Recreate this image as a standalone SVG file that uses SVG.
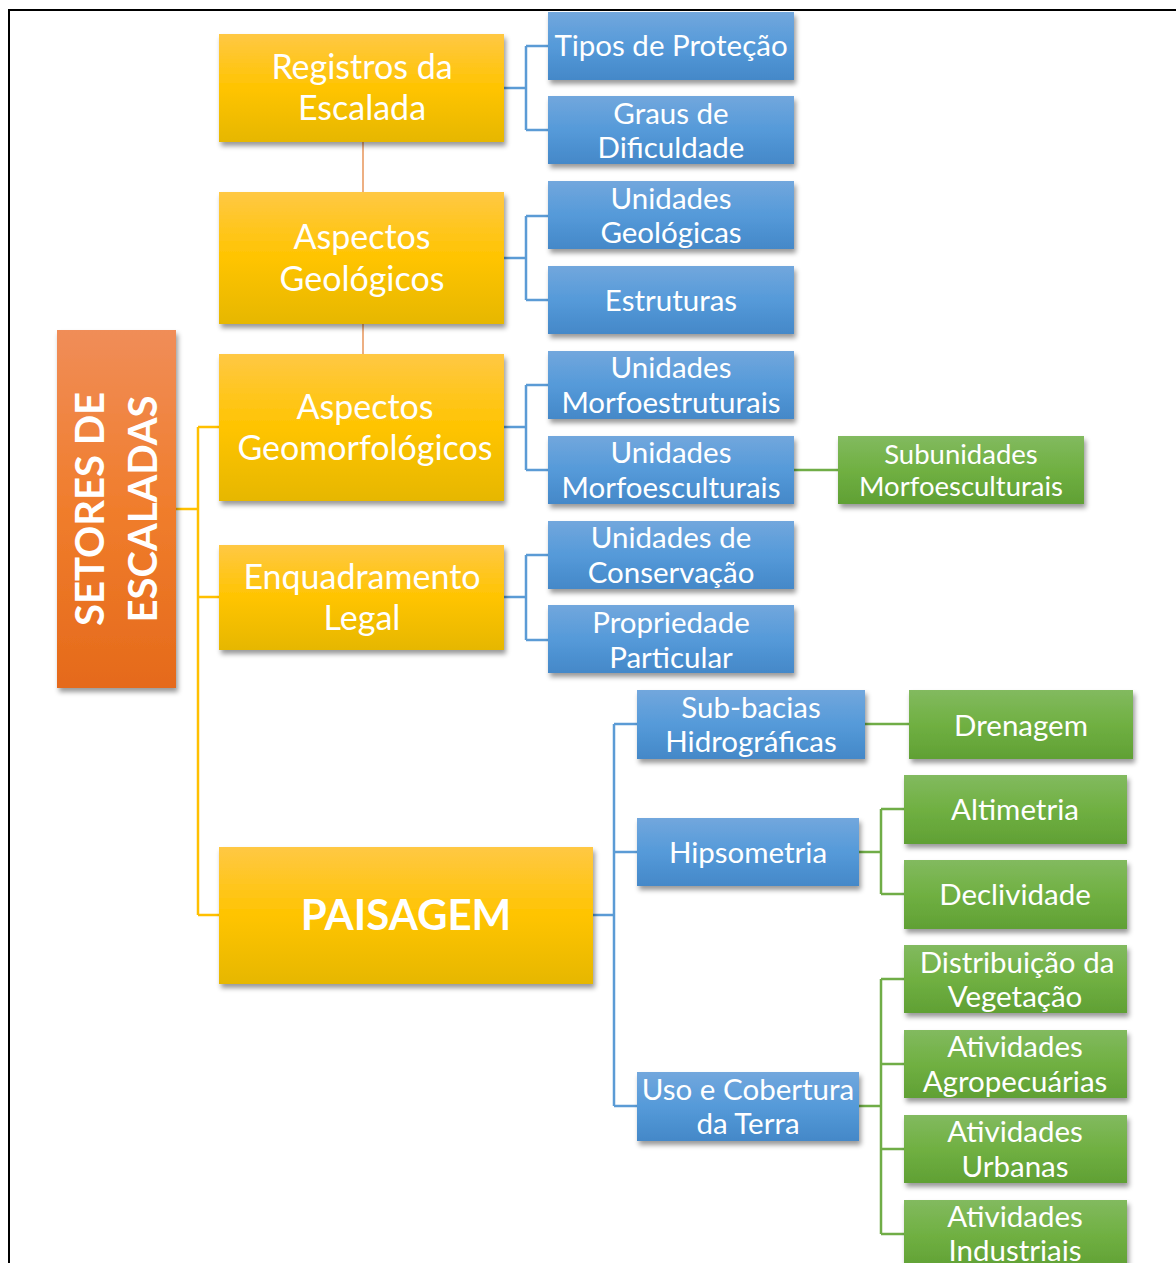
<svg xmlns="http://www.w3.org/2000/svg" width="1176" height="1263" viewBox="0 0 1176 1263">
<style>
.t{font-family:Lato,"Open Sans","Liberation Sans",sans-serif;fill:#fff;text-anchor:middle;}
.y{font-size:34px;}
.b{font-size:29.5px;}
.g{font-size:29.5px;}
.gs{font-size:27.5px;}
.cy{stroke:#FFC000;stroke-width:2.5;fill:none;}
.cb{stroke:#5B9BD5;stroke-width:2.5;fill:none;}
.cg{stroke:#70AD47;stroke-width:2.5;fill:none;}
.co{stroke:#E8955A;stroke-width:1.5;fill:none;}
</style>
<defs>
<linearGradient id="gy" x1="0" y1="0" x2="0" y2="1"><stop offset="0" stop-color="#FFC844"/><stop offset="0.5" stop-color="#FFC400"/><stop offset="1" stop-color="#E6B700"/></linearGradient>
<linearGradient id="gb" x1="0" y1="0" x2="0" y2="1"><stop offset="0" stop-color="#72A7DD"/><stop offset="0.5" stop-color="#559AD9"/><stop offset="1" stop-color="#4488C8"/></linearGradient>
<linearGradient id="gg" x1="0" y1="0" x2="0" y2="1"><stop offset="0" stop-color="#82BA5F"/><stop offset="0.5" stop-color="#70B042"/><stop offset="1" stop-color="#60A034"/></linearGradient>
<linearGradient id="go" x1="0" y1="0" x2="0" y2="1"><stop offset="0" stop-color="#F08D58"/><stop offset="0.5" stop-color="#F07D2C"/><stop offset="1" stop-color="#E56A1B"/></linearGradient>
<filter id="sh" x="-10%" y="-10%" width="125%" height="130%"><feDropShadow dx="2" dy="4" stdDeviation="2.5" flood-color="#000" flood-opacity="0.4"/></filter>
</defs>
<rect x="0" y="0" width="1176" height="1263" fill="#fff"/>
<rect x="9" y="10" width="1180" height="1280" fill="none" stroke="#000" stroke-width="2"/>

<g id="connectors">
<path class="co" d="M363 142V192M363 324V354"/>
<path class="cy" d="M176 509H198M198 427V915M198 427H219M198 597H219M198 915H219"/>
<path class="cb" d="M504 88H526M526 46V130M526 46H548M526 130H548"/>
<path class="cb" d="M504 258H526M526 216V300M526 216H548M526 300H548"/>
<path class="cb" d="M504 427H526M526 385V470M526 385H548M526 470H548"/>
<path class="cb" d="M504 597H526M526 555V640M526 555H548M526 640H548"/>
<path class="cg" d="M794 470H838"/>
<path class="cb" d="M593 915H614M614 724V1106M614 724H637M614 852H637M614 1106H637"/>
<path class="cg" d="M865 724H909"/>
<path class="cg" d="M859 852H881M881 809V894M881 809H904M881 894H904"/>
<path class="cg" d="M859 1106H881M881 979V1234M881 979H904M881 1064H904M881 1149H904M881 1234H904"/>
</g>

<g id="n-setores"><rect x="57" y="330" width="119" height="358" fill="url(#go)" filter="url(#sh)"/>
<text class="t" font-weight="bold" font-size="40" transform="translate(90 509) rotate(-90)" dy="14">SETORES DE</text>
<text class="t" font-weight="bold" font-size="40" transform="translate(143 509) rotate(-90)" dy="14">ESCALADAS</text></g>

<g id="n-registros"><rect x="219" y="34" width="285" height="108" fill="url(#gy)" filter="url(#sh)"/>
<text class="t y" x="362" y="79">Registros da</text><text class="t y" x="362" y="120">Escalada</text></g>
<g id="n-geologicos"><rect x="219" y="192" width="285" height="132" fill="url(#gy)" filter="url(#sh)"/>
<text class="t y" x="362" y="249">Aspectos</text><text class="t y" x="362" y="291">Geológicos</text></g>
<g id="n-geomorf"><rect x="219" y="354" width="285" height="147" fill="url(#gy)" filter="url(#sh)"/>
<text class="t y" x="365" y="419">Aspectos</text><text class="t y" x="365" y="460">Geomorfológicos</text></g>
<g id="n-enquadramento"><rect x="219" y="545" width="285" height="105" fill="url(#gy)" filter="url(#sh)"/>
<text class="t y" x="362" y="589">Enquadramento</text><text class="t y" x="362" y="630">Legal</text></g>
<g id="n-paisagem"><rect x="219" y="847" width="374" height="137" fill="url(#gy)" filter="url(#sh)"/>
<text class="t" font-weight="bold" font-size="42" x="406" y="930">PAISAGEM</text></g>

<g id="n-tipos"><rect x="548" y="12" width="246" height="68" fill="url(#gb)" filter="url(#sh)"/>
<text class="t b" x="671" y="56">Tipos de Proteção</text></g>
<g id="n-graus"><rect x="548" y="96" width="246" height="68" fill="url(#gb)" filter="url(#sh)"/>
<text class="t b" x="671" y="124">Graus de</text><text class="t b" x="671" y="158">Dificuldade</text></g>
<g id="n-ugeo"><rect x="548" y="181" width="246" height="68" fill="url(#gb)" filter="url(#sh)"/>
<text class="t b" x="671" y="209">Unidades</text><text class="t b" x="671" y="243">Geológicas</text></g>
<g id="n-estruturas"><rect x="548" y="266" width="246" height="68" fill="url(#gb)" filter="url(#sh)"/>
<text class="t b" x="671" y="311">Estruturas</text></g>
<g id="n-umest"><rect x="548" y="351" width="246" height="68" fill="url(#gb)" filter="url(#sh)"/>
<text class="t b" x="671" y="378">Unidades</text><text class="t b" x="671" y="413">Morfoestruturais</text></g>
<g id="n-umesc"><rect x="548" y="436" width="246" height="68" fill="url(#gb)" filter="url(#sh)"/>
<text class="t b" x="671" y="463">Unidades</text><text class="t b" x="671" y="498">Morfoesculturais</text></g>
<g id="n-ucons"><rect x="548" y="521" width="246" height="68" fill="url(#gb)" filter="url(#sh)"/>
<text class="t b" x="671" y="548">Unidades de</text><text class="t b" x="671" y="583">Conservação</text></g>
<g id="n-prop"><rect x="548" y="605" width="246" height="68" fill="url(#gb)" filter="url(#sh)"/>
<text class="t b" x="671" y="633">Propriedade</text><text class="t b" x="671" y="668">Particular</text></g>

<g id="n-subunid"><rect x="838" y="436" width="246" height="68" fill="url(#gg)" filter="url(#sh)"/>
<text class="t gs" x="961" y="464">Subunidades</text><text class="t gs" x="961" y="496">Morfoesculturais</text></g>

<g id="n-subbacias"><rect x="637" y="690" width="228" height="69" fill="url(#gb)" filter="url(#sh)"/>
<text class="t b" x="751" y="718">Sub-bacias</text><text class="t b" x="751" y="752">Hidrográficas</text></g>
<g id="n-hipso"><rect x="637" y="818" width="222" height="68" fill="url(#gb)" filter="url(#sh)"/>
<text class="t b" x="748" y="863">Hipsometria</text></g>
<g id="n-uso"><rect x="637" y="1072" width="222" height="69" fill="url(#gb)" filter="url(#sh)"/>
<text class="t b" x="748" y="1100">Uso e Cobertura</text><text class="t b" x="748" y="1134">da Terra</text></g>

<g id="n-drenagem"><rect x="909" y="690" width="224" height="69" fill="url(#gg)" filter="url(#sh)"/>
<text class="t g" x="1021" y="736">Drenagem</text></g>
<g id="n-altimetria"><rect x="904" y="775" width="223" height="69" fill="url(#gg)" filter="url(#sh)"/>
<text class="t g" x="1015" y="820">Altimetria</text></g>
<g id="n-declividade"><rect x="904" y="860" width="223" height="69" fill="url(#gg)" filter="url(#sh)"/>
<text class="t g" x="1015" y="905">Declividade</text></g>
<g id="n-vegetacao"><rect x="904" y="945" width="223" height="68" fill="url(#gg)" filter="url(#sh)"/>
<text class="t g" x="1017" y="973">Distribuição da</text><text class="t g" x="1015" y="1007">Vegetação</text></g>
<g id="n-agro"><rect x="904" y="1030" width="223" height="68" fill="url(#gg)" filter="url(#sh)"/>
<text class="t g" x="1015" y="1057">Atividades</text><text class="t g" x="1015" y="1092">Agropecuárias</text></g>
<g id="n-urbanas"><rect x="904" y="1115" width="223" height="68" fill="url(#gg)" filter="url(#sh)"/>
<text class="t g" x="1015" y="1142">Atividades</text><text class="t g" x="1015" y="1177">Urbanas</text></g>
<g id="n-industriais"><rect x="904" y="1200" width="223" height="70" fill="url(#gg)" filter="url(#sh)"/>
<text class="t g" x="1015" y="1227">Atividades</text><text class="t g" x="1015" y="1261">Industriais</text></g>
</svg>
